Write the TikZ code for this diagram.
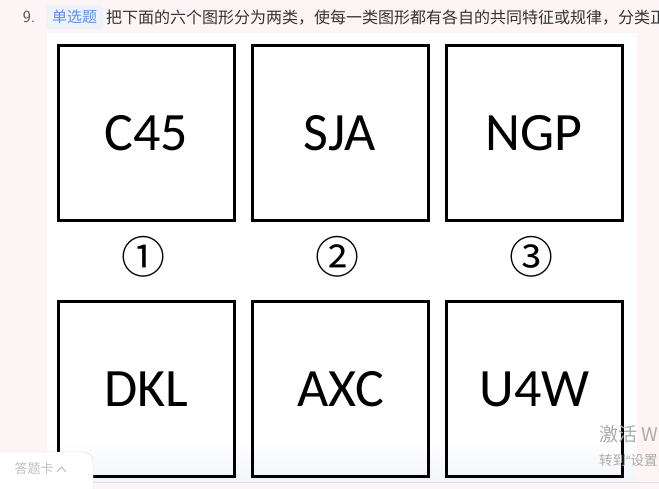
\documentclass[tikz,border=0pt]{standalone}
\usepackage{fontspec}
\setmainfont{Carlito}
\newfontfamily\cjk{Noto Sans CJK SC}
\newfontfamily\latinsans{Liberation Sans}
\definecolor{pagebg}{HTML}{FDF5F5}
\definecolor{panelfoot}{HTML}{F2F4F9}
\definecolor{footline}{HTML}{DDE1E8}
\definecolor{stemgray}{HTML}{333333}
\definecolor{numgray}{HTML}{555555}
\definecolor{tagbg}{HTML}{EDF2FB}
\definecolor{tagblue}{HTML}{5B8EF0}
\definecolor{tabgray}{HTML}{BBBFC6}
\definecolor{wmgray}{HTML}{ABABAB}
\begin{document}
\begin{tikzpicture}[x=1pt,y=-1pt,
  figbox/.style={draw=black,line width=3pt,minimum width=176pt,minimum height=175pt,inner sep=0pt,font=\fontsize{54}{54}\selectfont},
  number/.style={inner sep=0pt,font=\cjk\fontsize{44}{44}\selectfont},
  stem/.style={inner sep=0pt,text=stemgray,font=\cjk\fontsize{16}{17}\selectfont}]
    \clip (0,0) rectangle (659,489);
    \fill[pagebg] (0,0) rectangle (659,489);
    \fill[white] (47,33) rectangle (637,482);
    \shade[top color=white,bottom color=panelfoot] (47,440) rectangle (637,482);
    \draw[footline] (47,482.5) -- (659,482.5);
    % question line
    \node[stem,text=numgray,font=\fontsize{17}{17}\selectfont\sffamily] (qnum) at (29,17) {9.};
    \node[fill=tagbg,rounded corners=3pt,text=tagblue,font=\cjk\fontsize{15}{15}\selectfont,minimum width=57pt,minimum height=24pt,inner sep=0pt] (qtype) at (74.5,17) {单选题};
    \node[stem,anchor=west] (qtext) at (106,17.5) {把下面的六个图形分为两类，使每一类图形都有各自的共同特征或规律，分类正};
    % the six figures
    \node[figbox] (fig1) at (146.5,133) {C45};
    \node[figbox] (fig2) at (340,133) {SJA};
    \node[figbox] (fig3) at (534,133) {NGP};
    \node[figbox] (fig4) at (146.5,389) {DKL};
    \node[figbox] (fig5) at (340.5,389) {AXC};
    \node[figbox] (fig6) at (534.5,389) {U4W};
    \node[number] (n1) at (143,257) {①};
    \node[number] (n2) at (337,257) {②};
    \node[number] (n3) at (531,257) {③};
    % answer card tab
    \draw[tabgray!60,fill=white,rounded corners=9pt] (-12,452) rectangle (93,510);
    \node[text=tabgray,font=\cjk\fontsize{13}{13}\selectfont,inner sep=0pt] (card) at (34,469) {答题卡};
    \draw[tabgray,line width=1pt] (57,472) -- (61.5,467) -- (66,472);
    % activation watermark
    \node[anchor=west,text=wmgray,font=\cjk\fontsize{19}{19}\selectfont,inner sep=0pt] (wm1) at (599,434) {激活 W};
    \node[anchor=west,text=wmgray,font=\cjk\fontsize{13.5}{14}\selectfont,inner sep=0pt] (wm2) at (599,460) {转到{\latinsans“}设置};
\end{tikzpicture}
\end{document}
